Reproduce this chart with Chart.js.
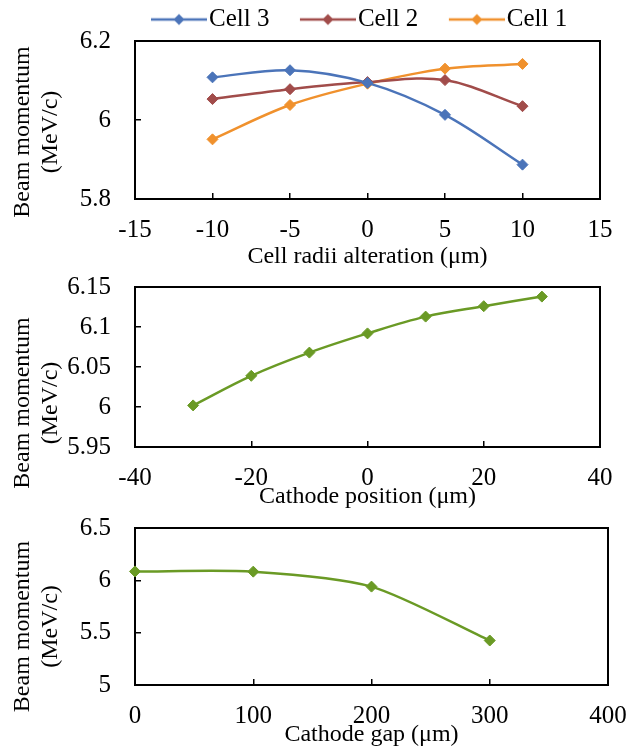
<!DOCTYPE html>
<html><head><meta charset="utf-8">
<script src="https://cdn.jsdelivr.net/npm/chart.js@4.4.1/dist/chart.umd.min.js"></script>
<style>
html,body{margin:0;padding:0;background:#fff;}
#wrap{position:relative;width:636px;height:747px;overflow:hidden;background:#fff;}
canvas{position:absolute;left:0;}
</style></head><body>
<div id="wrap">
<canvas id="c1" width="636" height="272" style="top:0px"></canvas>
<canvas id="c2" width="636" height="240" style="top:272px"></canvas>
<canvas id="c3" width="636" height="235" style="top:512px"></canvas>
</div>
<script>
// ---- data: chart 1 (cell radii alteration) ----
const radiiX = [-10, -5, 0, 5, 10];
const cell3 = [6.108, 6.126, 6.094, 6.013, 5.887];
const cell2 = [6.053, 6.078, 6.096, 6.101, 6.035];
const cell1 = [5.951, 6.038, 6.092, 6.130, 6.142];
const radiiXTicks = [-15, -10, -5, 0, 5, 10, 15];
const radiiYTicks = [5.8, 6.0, 6.2];
const seriesNames = ['Cell 3', 'Cell 2', 'Cell 1'];

// ---- data: chart 2 (cathode position) ----
const posX = [-30, -20, -10, 0, 10, 20, 30];
const posY = [6.002, 6.039, 6.068, 6.092, 6.113, 6.126, 6.138];
const posXTicks = [-40, -20, 0, 20, 40];
const posYTicks = [5.95, 6.0, 6.05, 6.1, 6.15];

// ---- data: chart 3 (cathode gap) ----
const gapX = [0, 100, 200, 300];
const gapY = [6.085, 6.083, 5.94, 5.425];
const gapXTicks = [0, 100, 200, 300, 400];
const gapYTicks = [5, 5.5, 6, 6.5];

const yTitle = ['Beam momentum', '(MeV/c)'];

const FONT = "'Liberation Serif','Times New Roman',serif";
const C_BLUE = '#4B74B9', C_RED = '#A14C4A', C_ORANGE = '#F0912D', C_GREEN = '#6A9A25';

const fmt = v => String(Math.round(v * 1000) / 1000);

function xScale(min, max, ticks, title, axisH, titlePad) {
  return {
    type: 'linear', min, max,
    afterBuildTicks: s => { s.ticks = ticks.map(v => ({ value: v })); },
    afterFit: s => { s.height = axisH; s.paddingLeft = 0; s.paddingRight = 0; },
    grid: { drawOnChartArea: false, drawTicks: true, tickLength: -6, color: '#000', lineWidth: 1.5 },
    border: { color: '#000', width: 2 },
    ticks: { color: '#000', padding: 22, font: { family: FONT, size: 25 }, maxRotation: 0, autoSkip: false, callback: fmt },
    title: { display: true, text: title, color: '#000', font: { family: FONT, size: 24, lineHeight: 1 }, padding: { top: 0, bottom: titlePad } }
  };
}
function yScale(min, max, ticks) {
  return {
    type: 'linear', min, max,
    afterBuildTicks: s => { s.ticks = ticks.map(v => ({ value: v })); },
    afterFit: s => { s.width = 135; s.paddingTop = 0; s.paddingBottom = 0; },
    grid: { drawOnChartArea: false, drawTicks: true, tickLength: -6, color: '#000', lineWidth: 1.5 },
    border: { color: '#000', width: 2 },
    ticks: { color: '#000', padding: 30, font: { family: FONT, size: 25 }, autoSkip: false, callback: fmt },
    title: { display: true, text: yTitle, color: '#000', font: { family: FONT, size: 24, lineHeight: 1.15 }, padding: { top: 9, bottom: 0 } }
  };
}

const framePlugin = {
  id: 'frame',
  afterDatasetsDraw(chart) {
    const { ctx, chartArea: { left, top, right, bottom } } = chart;
    ctx.save();
    ctx.strokeStyle = '#000'; ctx.lineWidth = 2;
    ctx.beginPath(); ctx.moveTo(left - 1, top); ctx.lineTo(right, top); ctx.lineTo(right, bottom + 1); ctx.stroke();
    ctx.restore();
  }
};
const yTitleShift = {
  id: 'yTitleShift',
  afterLayout(chart, args, opts) {
    const s = chart.scales.y;
    if (!s || s._shiftPatched) return;
    const orig = s.drawTitle;
    s.drawTitle = function () { this.ctx.save(); this.ctx.translate(0, opts.dy || 0); orig.call(this); this.ctx.restore(); };
    s._shiftPatched = true;
  }
};
const legendPlace = {
  id: 'legendPlace',
  beforeLayout(chart, args, opts) {
    const lg = chart.legend;
    if (lg && !lg._fitPatched) {
      const f = lg.fit;
      lg.fit = function () { f.call(this); this.height = opts.height; };
      lg._fitPatched = true;
    }
  },
  afterLayout(chart, args, opts) {
    const lg = chart.legend;
    if (lg) { const w = lg.right - lg.left; lg.left = opts.left; lg.right = opts.left + w; }
  }
};

function legendIcon(color) {
  const c = document.createElement('canvas');
  c.width = 90; c.height = 14;
  const g = c.getContext('2d');
  g.strokeStyle = color; g.lineWidth = 2.5;
  g.beginPath(); g.moveTo(34, 7); g.lineTo(90, 7); g.stroke();
  g.fillStyle = color;
  g.beginPath(); g.moveTo(62, 1.5); g.lineTo(67.5, 7); g.lineTo(62, 12.5); g.lineTo(56.5, 7); g.closePath(); g.fill();
  return c;
}

function ds(label, xs, ys, color, tension) {
  return {
    label, data: xs.map((x, i) => ({ x, y: ys[i] })),
    borderColor: color, backgroundColor: color,
    pointBackgroundColor: color, pointBorderColor: color,
    borderWidth: 2.5, tension: tension, fill: false, clip: false,
    pointStyle: 'rectRot', pointRadius: 5.5, pointBorderWidth: 1, pointHoverRadius: 5.5
  };
}

Chart.defaults.font.family = FONT;
Chart.defaults.color = '#000';

const colors1 = [C_BLUE, C_RED, C_ORANGE];
const icons = colors1.map(legendIcon);

new Chart(document.getElementById('c1'), {
  type: 'line',
  data: { datasets: [ds(seriesNames[0], radiiX, cell3, C_BLUE, 0.35), ds(seriesNames[1], radiiX, cell2, C_RED, 0.35), ds(seriesNames[2], radiiX, cell1, C_ORANGE, 0.35)] },
  options: {
    responsive: false, animation: false, devicePixelRatio: 1, events: [],
    layout: { padding: { top: 0, right: 36, bottom: 0, left: 0 } },
    scales: { x: xScale(-15, 15, radiiXTicks, 'Cell radii alteration (\u03bcm)', 73, 3), y: yScale(5.8, 6.2, radiiYTicks) },
    plugins: {
      tooltip: { enabled: false },
      legend: {
        display: true, position: 'top', align: 'start',
        labels: {
          usePointStyle: true, pointStyleWidth: 69, padding: 7, color: '#000',
          font: { family: FONT, size: 25 },
          generateLabels: chart => chart.data.datasets.map((d, i) => ({
            text: d.label, pointStyle: icons[i], fillStyle: d.borderColor, strokeStyle: d.borderColor,
            lineWidth: 0, hidden: false, datasetIndex: i, fontColor: '#000'
          }))
        }
      },
      legendPlace: { height: 41, left: 120.5 },
      yTitleShift: { dy: 12 }
    }
  },
  plugins: [framePlugin, yTitleShift, legendPlace]
});

new Chart(document.getElementById('c2'), {
  type: 'line',
  data: { datasets: [ds('Cathode position', posX, posY, C_GREEN, 0.35)] },
  options: {
    responsive: false, animation: false, devicePixelRatio: 1, events: [],
    layout: { padding: { top: 15, right: 36, bottom: 0, left: 0 } },
    scales: { x: xScale(-40, 40, posXTicks, 'Cathode position (\u03bcm)', 65, 3), y: yScale(5.95, 6.15, posYTicks) },
    plugins: { tooltip: { enabled: false }, legend: { display: false }, yTitleShift: { dy: 36 } }
  },
  plugins: [framePlugin, yTitleShift]
});

new Chart(document.getElementById('c3'), {
  type: 'line',
  data: { datasets: [ds('Cathode gap', gapX, gapY, C_GREEN, 0.25)] },
  options: {
    responsive: false, animation: false, devicePixelRatio: 1, events: [],
    layout: { padding: { top: 16, right: 28, bottom: 0, left: 0 } },
    scales: { x: xScale(0, 400, gapXTicks, 'Cathode gap (\u03bcm)', 62, 0), y: yScale(5, 6.5, gapYTicks) },
    plugins: { tooltip: { enabled: false }, legend: { display: false }, yTitleShift: { dy: 20 } }
  },
  plugins: [framePlugin, yTitleShift]
});
</script>
</body></html>
